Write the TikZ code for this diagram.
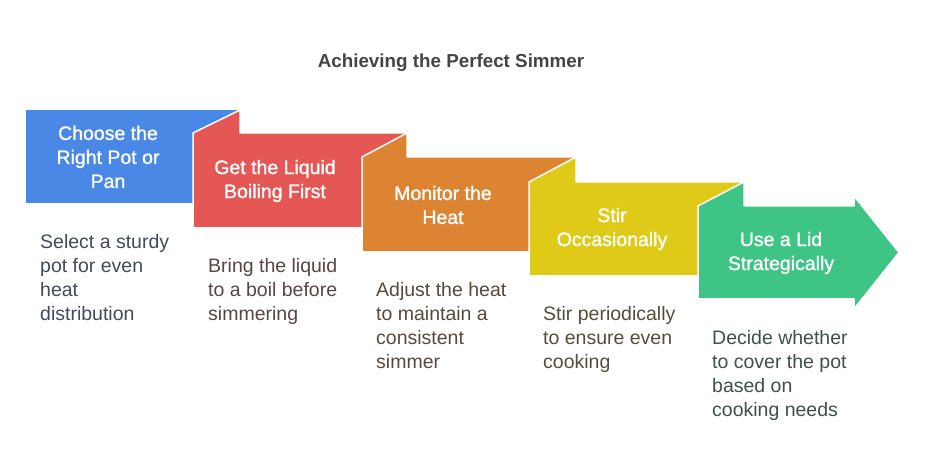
\documentclass[tikz,border=0pt]{standalone}
\usepackage{fontspec}
\setmainfont{Liberation Sans}
\newfontfamily\medfont[BoldFont={Liberation Sans},BoldFeatures={FakeBold=1.2}]{Liberation Sans}
\definecolor{cblue}{HTML}{4A88E5}
\definecolor{cred}{HTML}{E45755}
\definecolor{corange}{HTML}{DD8432}
\definecolor{cyellow}{HTML}{DFCA17}
\definecolor{cgreen}{HTML}{3EC585}
\definecolor{dblue}{HTML}{404B5C}
\definecolor{dred}{HTML}{5A4444}
\definecolor{dorange}{HTML}{574A3C}
\definecolor{dyellow}{HTML}{534D3A}
\definecolor{dgreen}{HTML}{3F5048}
\definecolor{ctitle}{HTML}{444444}
\tikzset{
  blockshape/.style={draw=white, line width=1.5pt, line join=bevel},
  blocktext/.style={text=white, align=center, inner sep=0pt, font=\medfont\bfseries\fontsize{19.5}{24}\selectfont},
  desctext/.style={align=left, anchor=north west, inner sep=0pt, font=\fontsize{19.5}{24}\selectfont},
}
\begin{document}
\begin{tikzpicture}[x=1pt,y=-1pt]
\useasboundingbox[fill=white] (0,0) rectangle (927,470);
\node[font=\bfseries\fontsize{18.8}{22}\selectfont, text=ctitle] (title) at (451,62.5) {Achieving the Perfect Simmer};
% block 1
\fill[cblue] (26,203) -- (26,110) -- (240,110) -- (240,203) -- cycle;
% block 2
\filldraw[cred, blockshape] (193,228) -- (193,133) -- (240,110) -- (240,133) -- (407,133) -- (407,228) -- cycle;
% block 3
\filldraw[corange, blockshape] (362,252) -- (362,157) -- (407,133) -- (407,157) -- (576,157) -- (576,252) -- cycle;
% block 4
\filldraw[cyellow, blockshape] (529,276) -- (529,182) -- (576,157) -- (576,182) -- (744,182) -- (744,276) -- cycle;
% block 5 arrow
\filldraw[cgreen, blockshape] (698,299) -- (698,206) -- (744,182) -- (744,206) -- (854,206) -- (854,196) -- (899,252.5) -- (854,309) -- (854,299) -- cycle;

\node[blocktext] (b1) at (108,157) {Choose the\\Right Pot or\\Pan};
\node[blocktext] (b2) at (275,181) {Get the Liquid\\Boiling First};
\node[blocktext] (b3) at (443,205) {Monitor the\\Heat};
\node[blocktext] (b4) at (612,229) {Stir\\Occasionally};
\node[blocktext] (b5) at (781,253) {Use a Lid\\Strategically};

\node[desctext, text=dblue] (d1) at (40,234) {Select a sturdy\\pot for even\\heat\\distribution};
\node[desctext, text=dred] (d2) at (208,258) {Bring the liquid\\to a boil before\\simmering};
\node[desctext, text=dorange] (d3) at (376,282) {Adjust the heat\\to maintain a\\consistent\\simmer};
\node[desctext, text=dyellow] (d4) at (543,306) {Stir periodically\\to ensure even\\cooking};
\node[desctext, text=dgreen] (d5) at (712,330) {Decide whether\\to cover the pot\\based on\\cooking needs};
\end{tikzpicture}
\end{document}
